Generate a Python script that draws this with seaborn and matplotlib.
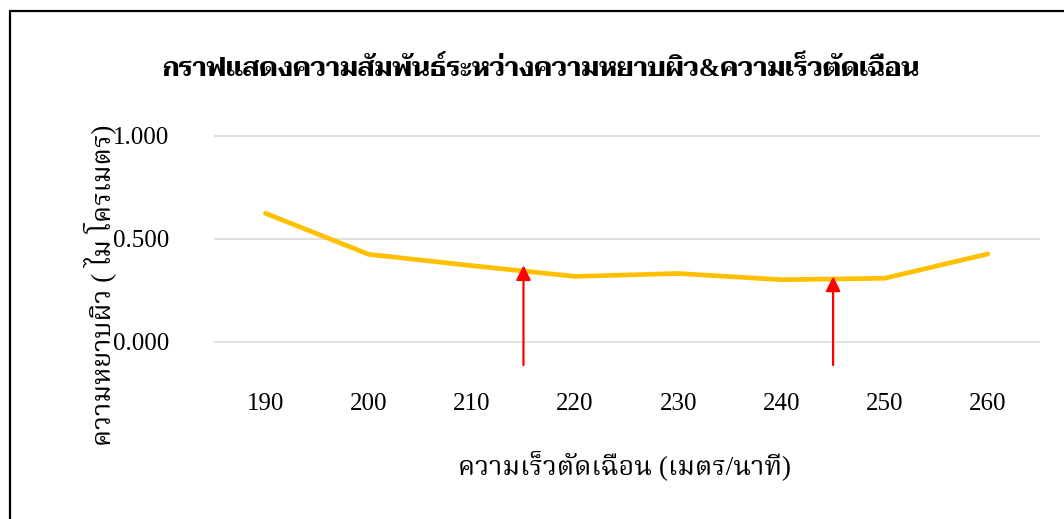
import matplotlib
matplotlib.use("Agg")
import matplotlib.pyplot as plt
import seaborn as sns
import pandas as pd
from matplotlib.lines import Line2D

# ข้อมูล
ความเร็ว = [190, 200, 210, 220, 230, 240, 250, 260]
ความหยาบ = [0.624, 0.425, 0.370, 0.318, 0.332, 0.302, 0.309, 0.427]
ลูกศร_x = [215, 245]
ลูกศร_ปลาย = [0.372, 0.318]
ลูกศร_ฐาน = -0.112

ชื่อกราฟ = "กราฟแสดงความสัมพันธ์ระหว่างความหยาบผิว&ความเร็วตัดเฉือน"
แกน_x = "ความเร็วตัดเฉือน (เมตร/นาที)"
แกน_y = "ความหยาบผิว ( ไม โครเมตร)"

sns.set_theme(style="white")
plt.rcParams["font.family"] = ["Liberation Serif", "Noto Serif Thai", "Taviraj", "DejaVu Sans"]
plt.rcParams["text.color"] = "black"

df = pd.DataFrame({"speed": ความเร็ว, "ra": ความหยาบ})

fig = plt.figure(figsize=(10.64, 5.19), dpi=100)
ax = fig.add_axes([0.201, 0.258, 0.776, 0.492])

sns.lineplot(data=df, x="speed", y="ra", color="#FFC000", linewidth=3.4,
             solid_capstyle="round", ax=ax)

for x, top in zip(ลูกศร_x, ลูกศร_ปลาย):
    ax.annotate("", xy=(x, top), xytext=(x, ลูกศร_ฐาน),
                arrowprops=dict(arrowstyle="-|>", color="red", lw=1.6,
                                mutation_scale=22, shrinkA=0, shrinkB=0))

ax.set_xlim(185, 265)
ax.set_ylim(-0.209, 1.029)
ax.set_xticks(ความเร็ว)
ax.set_yticks([0, 0.5, 1.0])
ax.set_yticklabels(["0.000", "0.500", "1.000"])
ax.tick_params(axis="both", length=0, labelsize=18, labelcolor="black")
ax.tick_params(axis="y", pad=32)
ax.tick_params(axis="x", pad=6)
ax.grid(axis="y", color="#D9D9D9", linewidth=1.2)
ax.grid(axis="x", visible=False)
for s in ax.spines.values():
    s.set_visible(False)
ax.set_xlabel("")
ax.set_ylabel("")

fig.text(0.508, 0.869, ชื่อกราฟ, ha="center", va="center", fontsize=18.5,
         fontweight="bold", family=["Liberation Serif", "Taviraj", "DejaVu Sans"])
fig.text(0.587, 0.104, แกน_x, ha="center", va="center", fontsize=19.5)
fig.text(0.094, 0.451, แกน_y, ha="center", va="center", fontsize=19.5,
         rotation=90)

# กรอบของแผนภูมิ
fig.add_artist(Line2D([0.0094, 0.0094], [0, 0.979], color="black", lw=1.6,
                      transform=fig.transFigure))
fig.add_artist(Line2D([0.0094, 1], [0.979, 0.979], color="black", lw=1.6,
                      transform=fig.transFigure))

fig.savefig("out.png", dpi=100)
